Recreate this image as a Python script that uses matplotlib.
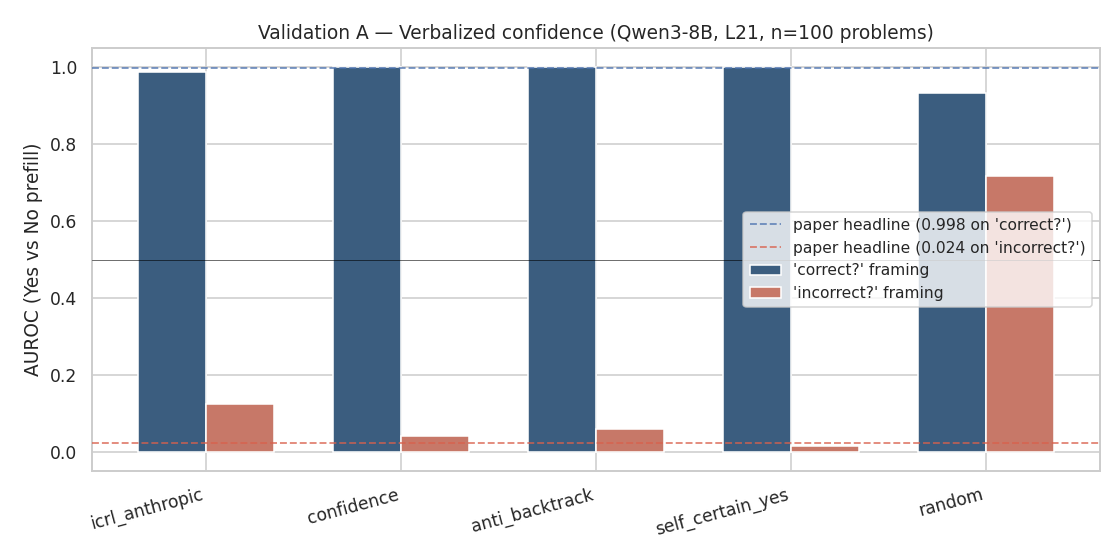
import numpy as np
import matplotlib
matplotlib.use("Agg")
import matplotlib.pyplot as plt
import seaborn as sns

sns.set_theme(style="whitegrid")
plt.rcParams["font.family"] = ["DejaVu Sans"]

# === Data ===
probes = ["icrl_anthropic", "confidence", "anti_backtrack", "self_certain_yes", "random"]
auroc_correct = [0.987, 1.0, 1.0, 1.0, 0.933]
auroc_incorrect = [0.124, 0.041, 0.060, 0.016, 0.718]
paper_correct = 0.998
paper_incorrect = 0.024

x = np.arange(len(probes))
w = 0.35

fig, ax = plt.subplots(figsize=(10, 5), dpi=112)

ax.axhline(paper_correct, color="#4c72b0", ls="--", lw=1.2, alpha=0.75, zorder=3,
           label="paper headline (0.998 on 'correct?')")
ax.axhline(paper_incorrect, color="#d9604c", ls="--", lw=1.2, alpha=0.75, zorder=3,
           label="paper headline (0.024 on 'incorrect?')")
ax.bar(x - w/2, auroc_correct, w, color="#3b5d7f", edgecolor="white", lw=1,
       label="'correct?' framing", zorder=2)
ax.bar(x + w/2, auroc_incorrect, w, color="#c77868", edgecolor="white", lw=1,
       label="'incorrect?' framing", zorder=2)
ax.axhline(0.5, color="black", lw=0.6, alpha=0.6, zorder=3)

ax.set_ylim(-0.05, 1.05)
ax.set_xticks(x)
ax.set_xticklabels(probes, rotation=15, ha="right")
ax.set_ylabel("AUROC (Yes vs No prefill)")
ax.set_title("Validation A — Verbalized confidence (Qwen3-8B, L21, n=100 problems)")
ax.legend(loc="center right", fontsize=10)

plt.subplots_adjust(left=0.082, right=0.982, top=0.914, bottom=0.159)
plt.savefig("out.png", dpi=112)
